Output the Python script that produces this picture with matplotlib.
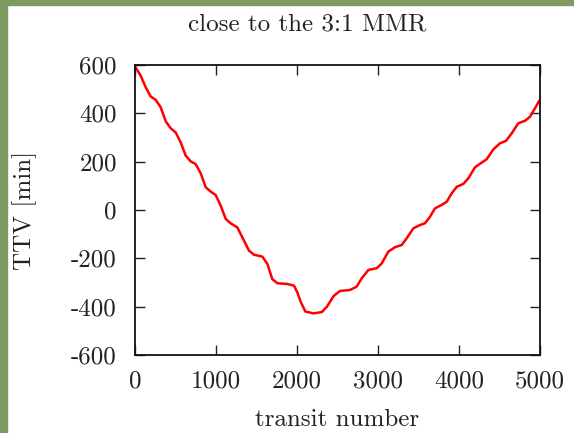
import matplotlib
matplotlib.use("Agg")
import matplotlib.pyplot as plt
from matplotlib.patches import Rectangle

W, H = 574, 433

# transit number and TTV [min]
transit = [
    0, 8, 70, 132, 193, 255, 317, 379, 441, 502, 564, 626, 688, 749, 811,
    873, 935, 996, 1058, 1120, 1181, 1263, 1325, 1407, 1469, 1572, 1634,
    1695, 1757, 1880, 1963, 2004, 2046, 2103, 2206, 2308, 2370, 2452, 2531,
    2654, 2737, 2798, 2881, 2984, 3046, 3128, 3210, 3293, 3354, 3436, 3519,
    3580, 3642, 3704, 3786, 3848, 3910, 3972, 4054, 4115, 4198, 4280, 4342,
    4424, 4506, 4580, 4650, 4732, 4815, 4877, 4938, 4991, 5000,
]
ttv = [
    594, 590, 556, 508, 470, 456, 425, 367, 338, 321, 280, 225, 201, 190, 152,
    94, 76, 62, 18, -37, -55, -72, -113, -168, -185, -193, -223,
    -286, -303, -306, -313, -341, -380, -420, -428, -422, -400, -356, -335,
    -331, -317, -283, -248, -241, -221, -172, -154, -145, -117, -76, -62,
    -55, -28, 7, 21, 34, 69, 96, 108, 131, 177, 196, 210,
    251, 276, 286, 317, 359, 369, 386, 421, 452, 456,
]

xticks = [0, 1000, 2000, 3000, 4000, 5000]
yticks = [-600, -400, -200, 0, 200, 400, 600]
ytick_labels = ["-600", "-400", "-200", "0", "200", "400", "600"]

plt.rcParams["font.family"] = ["cmr10", "DejaVu Serif"]

fig = plt.figure(figsize=(W / 100, H / 100), dpi=100)
fig.patch.set_facecolor("white")
# green frame strips on the left and top edges
green = "#7f9a60"
fig.patches.append(Rectangle((0, 0), 7 / W, 1, transform=fig.transFigure,
                             color=green, zorder=0))
fig.patches.append(Rectangle((0, 1 - 5 / H), 1, 5 / H, transform=fig.transFigure,
                             color=green, zorder=0))

ax = fig.add_axes([135 / W, 1 - 355 / H, 405 / W, 290 / H])
ax.plot(transit, ttv, color="#ff0000", lw=1.8, solid_joinstyle="round")
ax.set_xlim(0, 5000)
ax.set_ylim(-600, 600)
ax.set_xticks(xticks)
ax.set_xticklabels([str(t) for t in xticks])
ax.set_yticks(yticks)
ax.set_yticklabels(ytick_labels)
ax.tick_params(direction="in", length=7, width=1, top=True, right=True,
               labelsize=18, colors="#222", pad=11)
ax.tick_params(axis="y", pad=13)
for s in ax.spines.values():
    s.set_linewidth(1.3)
    s.set_color("#111")

fig.text(307 / W, 1 - 24 / H, "close to the 3:1 MMR", ha="center",
         va="center", fontsize=18, color="#222")
fig.text(337 / W, 1 - 420 / H, "transit number", ha="center", va="center",
         fontsize=18, color="#222")
fig.text(25 / W, 1 - 210 / H, "TTV [min]", ha="center", va="center",
         rotation=90, fontsize=18, color="#222")

fig.savefig("out.png", dpi=100)
